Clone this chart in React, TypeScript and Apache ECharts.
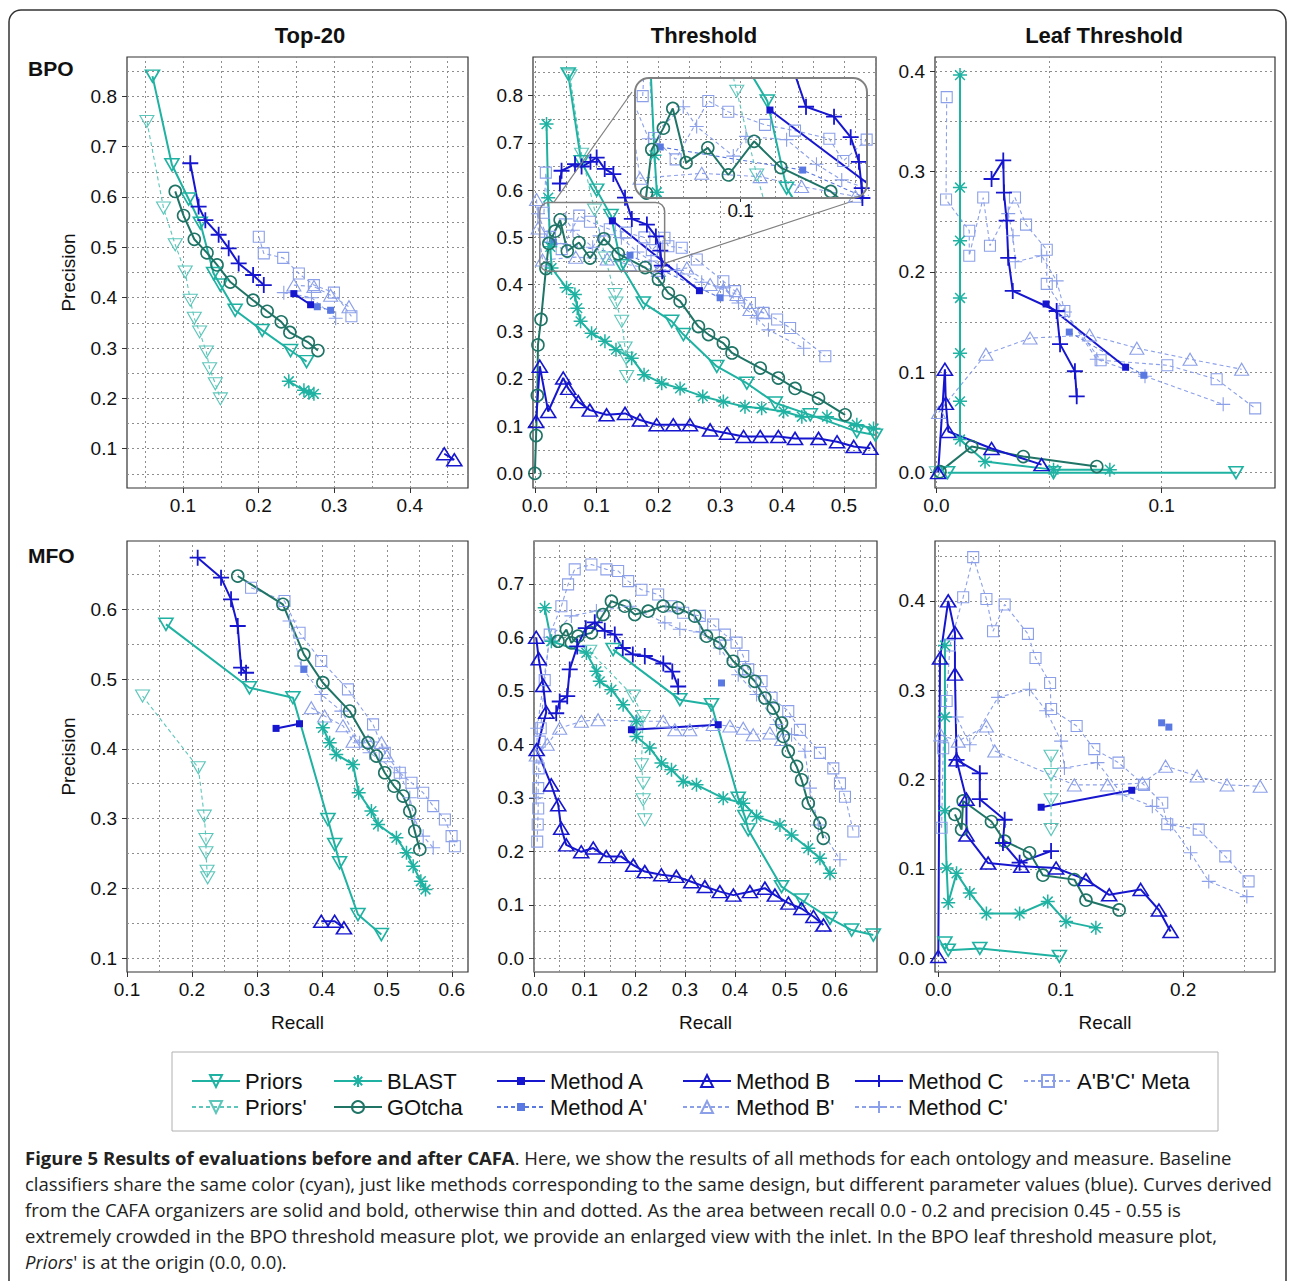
import React, { useEffect, useRef } from "react";
import * as echarts from "echarts";

type Pt = [number, number];

// ---------------- BPO · Top-20 ----------------
const P1_PRIORS: Pt[] = [[0.0597,0.840],[0.0854,0.664],[0.1075,0.596],[0.123,0.548],[0.1406,0.448],[0.1495,0.425],[0.169,0.375],[0.2048,0.335],[0.2423,0.295],[0.2635,0.273]];
const P1_PRIORS_P: Pt[] = [[0.0523,0.750],[0.0743,0.578],[0.0898,0.505],[0.103,0.451],[0.1097,0.395],[0.115,0.359],[0.122,0.332],[0.131,0.292],[0.1353,0.259],[0.1428,0.229],[0.1495,0.199]];
const P1_BLAST: Pt[] = [[0.240,0.234],[0.260,0.216],[0.2666,0.211],[0.2732,0.209]];
const P1_GOTCHA: Pt[] = [[0.0898,0.611],[0.1008,0.563],[0.115,0.516],[0.1318,0.489],[0.1451,0.465],[0.1627,0.431],[0.1928,0.395],[0.2114,0.373],[0.23,0.352],[0.2414,0.331],[0.2658,0.311],[0.2785,0.295]];
const P1_A: Pt[] = [[0.2467,0.408],[0.2688,0.386]];
const P1_AP: Pt[] = [[0.2777,0.382],[0.2953,0.375]];
const P1_B: Pt[] = [[0.4456,0.090],[0.4589,0.078]];
const P1_BP: Pt[] = [[0.2467,0.425],[0.2732,0.422],[0.2953,0.405],[0.3196,0.382]];
const P1_C: Pt[] = [[0.1097,0.667],[0.1207,0.581],[0.1296,0.554],[0.1472,0.525],[0.1605,0.498],[0.1737,0.468],[0.1928,0.445],[0.2069,0.425]];
const P1_CP: Pt[] = [[0.2334,0.410],[0.27,0.400],[0.302,0.359]];
const P1_META: Pt[] = [[0.2003,0.521],[0.2069,0.488],[0.2326,0.479],[0.2533,0.448],[0.2732,0.425],[0.2997,0.410],[0.3228,0.363]];

// ---------------- BPO · Threshold ----------------
const P2_PRIORS: Pt[] = [[0.054,0.846],[0.075,0.66],[0.1,0.6],[0.1232,0.546],[0.14,0.44],[0.1756,0.361],[0.2215,0.322],[0.2404,0.294],[0.2944,0.2265],[0.343,0.191],[0.389,0.149],[0.4457,0.124],[0.521,0.0885],[0.551,0.081]];
const P2_PRIORS_P: Pt[] = [[0.0567,0.842],[0.0756,0.676],[0.0966,0.558],[0.114,0.456],[0.1297,0.379],[0.1313,0.361],[0.1405,0.322],[0.146,0.2655],[0.1475,0.244],[0.1486,0.205]];
const P2_BLAST: Pt[] = [[0.0189,0.74],[0.0216,0.584],[0.025,0.48],[0.027,0.435],[0.0513,0.393],[0.0648,0.379],[0.0686,0.35],[0.074,0.322],[0.0918,0.297],[0.1134,0.28],[0.1313,0.262],[0.1567,0.244],[0.1767,0.209],[0.2053,0.191],[0.235,0.18],[0.2717,0.163],[0.305,0.152],[0.34,0.141],[0.367,0.138],[0.4025,0.131],[0.432,0.12],[0.4727,0.12],[0.521,0.103],[0.548,0.095]];
const P2_GOTCHA: Pt[] = [[0.0,0.0],[0.002,0.08],[0.004,0.165],[0.005,0.272],[0.01,0.326],[0.018,0.434],[0.0226,0.487],[0.0327,0.513],[0.0409,0.537],[0.0525,0.471],[0.0714,0.489],[0.0893,0.456],[0.1117,0.497],[0.135,0.465],[0.1784,0.436],[0.2,0.411],[0.216,0.382],[0.235,0.365],[0.2647,0.311],[0.281,0.294],[0.305,0.276],[0.319,0.255],[0.3647,0.223],[0.394,0.202],[0.421,0.18],[0.459,0.159],[0.502,0.124]];
const P2_A: Pt[] = [[0.1255,0.535],[0.2663,0.387]];
const P2_AP: Pt[] = [[0.03,0.49],[0.154,0.462],[0.2998,0.372]];
const P2_B: Pt[] = [[0.002,0.11],[0.008,0.227],[0.0216,0.131],[0.0459,0.202],[0.054,0.18],[0.0702,0.152],[0.089,0.134],[0.116,0.124],[0.1459,0.127],[0.17,0.113],[0.197,0.103],[0.224,0.103],[0.251,0.103],[0.2836,0.092],[0.311,0.085],[0.3377,0.078],[0.3647,0.078],[0.394,0.078],[0.421,0.074],[0.459,0.074],[0.489,0.067],[0.516,0.057],[0.543,0.053]];
const P2_BP: Pt[] = [[0.0027,0.58],[0.0054,0.52],[0.0124,0.452],[0.0661,0.458],[0.117,0.454],[0.1531,0.442],[0.2,0.43],[0.246,0.435],[0.2836,0.40],[0.305,0.389],[0.327,0.379],[0.348,0.347],[0.37,0.34]];
const P2_C: Pt[] = [[0.0405,0.614],[0.0432,0.641],[0.065,0.655],[0.0756,0.65],[0.09,0.66],[0.1,0.669],[0.113,0.645],[0.127,0.634],[0.1459,0.584],[0.1569,0.539],[0.1813,0.527],[0.1958,0.502],[0.203,0.472],[0.2054,0.44],[0.206,0.428]];
const P2_CP: Pt[] = [[0.005,0.55],[0.02,0.5],[0.05,0.539],[0.0617,0.515],[0.0936,0.479],[0.1046,0.503],[0.14,0.499],[0.166,0.469],[0.188,0.45],[0.23,0.43],[0.27,0.405],[0.305,0.393],[0.3295,0.361],[0.359,0.329],[0.378,0.304],[0.435,0.265]];
const P2_META: Pt[] = [[0.0147,0.552],[0.0178,0.637],[0.0245,0.501],[0.0434,0.475],[0.0718,0.546],[0.0892,0.533],[0.1212,0.517],[0.1473,0.51],[0.1772,0.5],[0.1893,0.473],[0.2097,0.499],[0.216,0.481],[0.2377,0.478],[0.262,0.453],[0.305,0.407],[0.324,0.386],[0.348,0.361],[0.37,0.34],[0.392,0.326],[0.413,0.308],[0.47,0.248]];

// ---------------- BPO · Leaf Threshold ----------------
const P3_PRIORS: Pt[] = [[0.005,0.0],[0.052,0.0],[0.133,0.0]];
const P3_PRIORS_P: Pt[] = [[0.0,0.0]];
const P3_BLAST: Pt[] = [[0.0105,0.396],[0.0105,0.284],[0.0105,0.231],[0.0105,0.174],[0.0105,0.119],[0.0105,0.071],[0.0105,0.033],[0.0216,0.011],[0.052,0.003],[0.077,0.003]];
const P3_GOTCHA: Pt[] = [[0.0016,0.001],[0.0157,0.026],[0.0386,0.016],[0.0712,0.006]];
const P3_A: Pt[] = [[0.0487,0.168],[0.084,0.105]];
const P3_AP: Pt[] = [[0.059,0.14],[0.0921,0.097]];
const P3_B: Pt[] = [[0.0008,0.0],[0.0038,0.103],[0.0042,0.069],[0.0053,0.041],[0.0245,0.024],[0.0467,0.008]];
const P3_BP: Pt[] = [[0.001,0.06],[0.022,0.118],[0.0416,0.134],[0.068,0.137],[0.089,0.124],[0.1126,0.113],[0.1355,0.103]];
const P3_C: Pt[] = [[0.0245,0.2925],[0.0297,0.311],[0.03,0.279],[0.0312,0.251],[0.0319,0.214],[0.0339,0.181],[0.0534,0.161],[0.0549,0.128],[0.0615,0.101],[0.0623,0.076]];
const P3_CP: Pt[] = [[0.0319,0.258],[0.034,0.236],[0.035,0.21],[0.0467,0.216],[0.0534,0.191],[0.0571,0.16],[0.0712,0.113],[0.0926,0.096],[0.1273,0.068]];
const P3_META: Pt[] = [[0.0046,0.374],[0.0043,0.272],[0.0146,0.241],[0.0146,0.216],[0.0208,0.274],[0.0238,0.226],[0.0349,0.274],[0.0398,0.247],[0.049,0.222],[0.049,0.188],[0.0568,0.161],[0.0729,0.112],[0.1025,0.107],[0.1244,0.093],[0.1415,0.064]];

// ---------------- MFO · Top-20 ----------------
const P4_PRIORS: Pt[] = [[0.16,0.5785],[0.2885,0.4876],[0.3555,0.4733],[0.4094,0.2987],[0.4198,0.2628],[0.4273,0.2365],[0.4556,0.1624],[0.4916,0.1337]];
const P4_PRIORS_P: Pt[] = [[0.1239,0.4757],[0.2098,0.3728],[0.219,0.3035],[0.2216,0.27],[0.2216,0.2509],[0.2232,0.2246],[0.2242,0.215]];
const P4_BLAST: Pt[] = [[0.4016,0.4302],[0.412,0.4087],[0.4222,0.392],[0.448,0.3776],[0.4567,0.337],[0.4763,0.3107],[0.4865,0.2915],[0.5148,0.2724],[0.5303,0.2509],[0.5406,0.2318],[0.5524,0.2102],[0.5596,0.1983]];
const P4_GOTCHA: Pt[] = [[0.2705,0.6478],[0.34,0.6072],[0.3723,0.5354],[0.4016,0.4948],[0.4428,0.4541],[0.4711,0.4087],[0.4839,0.3896],[0.4968,0.3657],[0.5112,0.3465],[0.5251,0.3322],[0.5354,0.3107],[0.543,0.282],[0.5508,0.2557]];
const P4_A: Pt[] = [[0.3295,0.4293],[0.3656,0.436]];
const P4_AP: Pt[] = [[0.3723,0.5139]];
const P4_B: Pt[] = [[0.3991,0.1528],[0.4197,0.1528],[0.434,0.1433]];
const P4_BP: Pt[] = [[0.3837,0.459],[0.4042,0.447],[0.4325,0.433],[0.448,0.411],[0.4711,0.411],[0.4917,0.409],[0.5,0.39]];
const P4_C: Pt[] = [[0.2088,0.6741],[0.2448,0.6454],[0.2602,0.6143],[0.2705,0.5761],[0.2757,0.5163],[0.2833,0.5091]];
const P4_CP: Pt[] = [[0.3502,0.5833],[0.3682,0.5187],[0.3991,0.478],[0.43,0.4541],[0.4582,0.4087],[0.4735,0.3943],[0.5199,0.3657],[0.5354,0.3298],[0.543,0.2987],[0.556,0.2748],[0.5714,0.2581]];
const P4_META: Pt[] = [[0.291,0.631],[0.3425,0.612],[0.3657,0.5665],[0.399,0.526],[0.4402,0.4852],[0.4788,0.435],[0.4968,0.3943],[0.52,0.3657],[0.538,0.3513],[0.556,0.337],[0.5714,0.3178],[0.5894,0.2987],[0.5997,0.2748],[0.6048,0.2604]];

// ---------------- MFO · Threshold ----------------
const P5_PRIORS: Pt[] = [[0.1567,0.577],[0.29,0.4834],[0.3533,0.474],[0.4067,0.2993],[0.42,0.2649],[0.4267,0.24],[0.4933,0.1338],[0.5333,0.1089],[0.59,0.0745],[0.6333,0.0527],[0.6767,0.0433]];
const P5_PRIORS_P: Pt[] = [[0.11,0.574],[0.1967,0.49],[0.2167,0.452],[0.2133,0.3617],[0.2167,0.3273],[0.2167,0.2961],[0.22,0.2587]];
const P5_BLAST: Pt[] = [[0.02,0.655],[0.0333,0.5926],[0.1033,0.5708],[0.1233,0.5365],[0.13,0.5177],[0.1533,0.5021],[0.1767,0.474],[0.2033,0.4428],[0.2033,0.4147],[0.23,0.3929],[0.2533,0.3648],[0.2733,0.3523],[0.2967,0.3305],[0.3233,0.3242],[0.3767,0.2993],[0.4167,0.2899],[0.4433,0.2649],[0.49,0.2493],[0.5133,0.2306],[0.5467,0.2056],[0.57,0.1869],[0.59,0.1588]];
const P5_GOTCHA: Pt[] = [[0.0467,0.5926],[0.0633,0.6145],[0.0733,0.5895],[0.0867,0.602],[0.1133,0.6083],[0.1367,0.6426],[0.1533,0.6675],[0.18,0.6582],[0.2,0.6426],[0.2267,0.6488],[0.2567,0.6582],[0.2867,0.655],[0.32,0.6395],[0.3433,0.602],[0.37,0.5895],[0.3967,0.5552],[0.42,0.5365],[0.44,0.5177],[0.46,0.4865],[0.4767,0.4678],[0.4933,0.4397],[0.4967,0.4147],[0.5067,0.3866],[0.5233,0.3586],[0.5333,0.3336],[0.5467,0.2899],[0.57,0.2524],[0.5767,0.2243]];
const P5_A: Pt[] = [[0.1933,0.4272],[0.3667,0.4366]];
const P5_AP: Pt[] = [[0.3733,0.5146]];
const P5_B: Pt[] = [[0.003,0.6],[0.008,0.56],[0.017,0.51],[0.023,0.46],[0.004,0.39],[0.033,0.324],[0.047,0.287],[0.053,0.243],[0.063,0.212],[0.093,0.199],[0.117,0.206],[0.143,0.19],[0.173,0.19],[0.197,0.174],[0.22,0.162],[0.253,0.156],[0.283,0.153],[0.313,0.143],[0.34,0.134],[0.37,0.1245],[0.397,0.118],[0.43,0.1245],[0.46,0.131],[0.48,0.118],[0.507,0.103],[0.533,0.093],[0.557,0.078],[0.577,0.062]];
const P5_BP: Pt[] = [[0.003,0.38],[0.025,0.4],[0.05,0.43],[0.0933,0.443],[0.1267,0.446],[0.2033,0.443],[0.2567,0.443],[0.28,0.427],[0.31,0.427],[0.3567,0.437],[0.39,0.434],[0.4167,0.43],[0.4367,0.418],[0.47,0.421],[0.4933,0.409]];
const P5_C: Pt[] = [[0.043,0.458],[0.05,0.48],[0.065,0.49],[0.07,0.54],[0.085,0.583],[0.102,0.617],[0.12,0.628],[0.14,0.612],[0.16,0.605],[0.176,0.58],[0.196,0.568],[0.22,0.565],[0.257,0.551],[0.275,0.536],[0.2867,0.508]];
const P5_CP: Pt[] = [[0.003,0.3],[0.005,0.43],[0.03,0.6],[0.0733,0.64],[0.1233,0.649],[0.19,0.658],[0.26,0.627],[0.29,0.615],[0.33,0.61],[0.37,0.58],[0.4067,0.53],[0.4433,0.493],[0.4833,0.437],[0.5133,0.418],[0.54,0.387],[0.55,0.318],[0.5667,0.249],[0.61,0.184]];
const P5_META: Pt[] = [[0.005,0.218],[0.006,0.25],[0.007,0.28],[0.007,0.318],[0.008,0.355],[0.01,0.405],[0.012,0.43],[0.02,0.52],[0.03,0.605],[0.0533,0.658],[0.0667,0.699],[0.08,0.727],[0.1133,0.736],[0.1433,0.727],[0.1667,0.724],[0.1867,0.705],[0.2133,0.689],[0.2467,0.68],[0.2733,0.658],[0.2967,0.646],[0.33,0.64],[0.3567,0.624],[0.38,0.605],[0.4033,0.59],[0.4167,0.565],[0.4267,0.54],[0.4533,0.518],[0.4733,0.487],[0.5067,0.462],[0.53,0.427],[0.57,0.384],[0.5967,0.355],[0.61,0.327],[0.62,0.302],[0.6367,0.237]];

// ---------------- MFO · Leaf Threshold ----------------
const P6_PRIORS: Pt[] = [[0.0054,0.017],[0.0081,0.009],[0.0339,0.011],[0.0989,0.002]];
const P6_PRIORS_P: Pt[] = [[0.0921,0.226],[0.0921,0.2056],[0.0921,0.1775],[0.0921,0.144]];
const P6_BLAST: Pt[] = [[0.0054,0.35],[0.0054,0.27],[0.0054,0.165],[0.0068,0.101],[0.0081,0.062],[0.0149,0.095],[0.0257,0.073],[0.0393,0.05],[0.0664,0.05],[0.0894,0.0635],[0.1043,0.041],[0.1287,0.034]];
const P6_GOTCHA: Pt[] = [[0.0136,0.161],[0.019,0.144],[0.0203,0.176],[0.0434,0.153],[0.0542,0.131],[0.0745,0.118],[0.0854,0.093],[0.1111,0.088],[0.1206,0.065],[0.1477,0.054]];
const P6_A: Pt[] = [[0.084,0.169],[0.158,0.188]];
const P6_AP: Pt[] = [[0.1824,0.2635],[0.1883,0.2587]];
const P6_B: Pt[] = [[0.0,0.002],[0.0014,0.336],[0.0081,0.4],[0.0136,0.3645],[0.0136,0.318],[0.0149,0.222],[0.023,0.178],[0.023,0.138],[0.0407,0.1065],[0.0678,0.103],[0.0962,0.101],[0.1206,0.088],[0.1396,0.071],[0.1653,0.077],[0.1802,0.054],[0.1897,0.03]];
const P6_BP: Pt[] = [[0.002,0.25],[0.0163,0.243],[0.0393,0.26],[0.0461,0.232],[0.1111,0.194],[0.1382,0.194],[0.1667,0.196],[0.1856,0.215],[0.2114,0.204],[0.2358,0.194],[0.2629,0.1925]];
const P6_C: Pt[] = [[0.0149,0.222],[0.0339,0.207],[0.0339,0.178],[0.0542,0.155],[0.0528,0.129],[0.0664,0.107],[0.0921,0.12]];
const P6_CP: Pt[] = [[0.005,0.27],[0.015,0.27],[0.0257,0.239],[0.0488,0.292],[0.0745,0.301],[0.0881,0.277],[0.1003,0.243],[0.103,0.213],[0.13,0.219],[0.1504,0.183],[0.1748,0.17],[0.1897,0.15],[0.206,0.118],[0.2209,0.086],[0.252,0.069]];
const P6_META: Pt[] = [[0.0027,0.146],[0.004,0.235],[0.0068,0.288],[0.0095,0.35],[0.0203,0.404],[0.0285,0.449],[0.0393,0.402],[0.0447,0.366],[0.0542,0.396],[0.0732,0.363],[0.0794,0.336],[0.0913,0.308],[0.0921,0.279],[0.113,0.26],[0.1274,0.234],[0.1472,0.219],[0.168,0.194],[0.1829,0.174],[0.187,0.15],[0.2127,0.144],[0.2344,0.114],[0.2534,0.086]];

// ---------------- axes: ranges, ticks, grid lines ----------------
const X_RANGE = [[0.026, 0.477], [-0.003, 0.552], [-0.0006, 0.1503], [0.1, 0.625], [-0.0014, 0.684], [-0.0027, 0.275]];
const Y_RANGE = [[0.022, 0.878], [-0.031, 0.882], [-0.0153, 0.414], [0.08, 0.698], [-0.0257, 0.78], [-0.0154, 0.467]];
const X_TICKS = [[0.1, 0.2, 0.3, 0.4], [0, 0.1, 0.2, 0.3, 0.4, 0.5], [0, 0.1], [0.1, 0.2, 0.3, 0.4, 0.5, 0.6], [0, 0.1, 0.2, 0.3, 0.4, 0.5, 0.6], [0, 0.1, 0.2]];
const Y_TICKS = [[0.1, 0.2, 0.3, 0.4, 0.5, 0.6, 0.7, 0.8], [0, 0.1, 0.2, 0.3, 0.4, 0.5, 0.6, 0.7, 0.8], [0, 0.1, 0.2, 0.3, 0.4], [0.1, 0.2, 0.3, 0.4, 0.5, 0.6], [0, 0.1, 0.2, 0.3, 0.4, 0.5, 0.6, 0.7], [0, 0.1, 0.2, 0.3, 0.4]];
const X_GRIDLINES = [
  [0.05, 0.1, 0.15, 0.2, 0.25, 0.3, 0.35, 0.4, 0.45],
  [0, 0.05, 0.1, 0.15, 0.2, 0.25, 0.3, 0.35, 0.4, 0.45, 0.5, 0.55],
  [0, 0.05, 0.1],
  [0.15, 0.2, 0.25, 0.3, 0.35, 0.4, 0.45, 0.5, 0.55, 0.6],
  [0, 0.05, 0.1, 0.15, 0.2, 0.25, 0.3, 0.35, 0.4, 0.45, 0.5, 0.55, 0.6, 0.65],
  [0, 0.05, 0.1, 0.15, 0.2, 0.25],
];
const Y_GRIDLINES = [
  [0.05, 0.1, 0.15, 0.2, 0.25, 0.3, 0.35, 0.4, 0.45, 0.5, 0.55, 0.6, 0.65, 0.7, 0.75, 0.8, 0.85],
  [0, 0.05, 0.1, 0.15, 0.2, 0.25, 0.3, 0.35, 0.4, 0.45, 0.5, 0.55, 0.6, 0.65, 0.7, 0.75, 0.8, 0.85],
  [0, 0.05, 0.1, 0.15, 0.2, 0.25, 0.3, 0.35, 0.4],
  [0.1, 0.15, 0.2, 0.25, 0.3, 0.35, 0.4, 0.45, 0.5, 0.55, 0.6, 0.65],
  [0, 0.05, 0.1, 0.15, 0.2, 0.25, 0.3, 0.35, 0.4, 0.45, 0.5, 0.55, 0.6, 0.65, 0.7, 0.75],
  [0, 0.05, 0.1, 0.15, 0.2, 0.25, 0.3, 0.35, 0.4, 0.45],
];
// zoomed window of the BPO threshold plot, shown in the inset
const ZOOM_X = [0.008, 0.21];
const ZOOM_Y = [0.428, 0.574];
const INSET_TICKS = [0.1];
const INSET_X_GRIDLINES = [0.025, 0.05, 0.075, 0.1, 0.125, 0.15, 0.175, 0.2];
const INSET_Y_GRIDLINES = [0.45, 0.475, 0.5, 0.525, 0.55];

const PANEL_DATA: Record<string, Pt[]>[] = [
  { priors: P1_PRIORS, priorsP: P1_PRIORS_P, blast: P1_BLAST, gotcha: P1_GOTCHA, a: P1_A, aP: P1_AP, b: P1_B, bP: P1_BP, c: P1_C, cP: P1_CP, meta: P1_META },
  { priors: P2_PRIORS, priorsP: P2_PRIORS_P, blast: P2_BLAST, gotcha: P2_GOTCHA, a: P2_A, aP: P2_AP, b: P2_B, bP: P2_BP, c: P2_C, cP: P2_CP, meta: P2_META },
  { priors: P3_PRIORS, priorsP: P3_PRIORS_P, blast: P3_BLAST, gotcha: P3_GOTCHA, a: P3_A, aP: P3_AP, b: P3_B, bP: P3_BP, c: P3_C, cP: P3_CP, meta: P3_META },
  { priors: P4_PRIORS, priorsP: P4_PRIORS_P, blast: P4_BLAST, gotcha: P4_GOTCHA, a: P4_A, aP: P4_AP, b: P4_B, bP: P4_BP, c: P4_C, cP: P4_CP, meta: P4_META },
  { priors: P5_PRIORS, priorsP: P5_PRIORS_P, blast: P5_BLAST, gotcha: P5_GOTCHA, a: P5_A, aP: P5_AP, b: P5_B, bP: P5_BP, c: P5_C, cP: P5_CP, meta: P5_META },
  { priors: P6_PRIORS, priorsP: P6_PRIORS_P, blast: P6_BLAST, gotcha: P6_GOTCHA, a: P6_A, aP: P6_AP, b: P6_B, bP: P6_BP, c: P6_C, cP: P6_CP, meta: P6_META },
];

const COLUMN_TITLES = ["Top-20", "Threshold", "Leaf Threshold"];
const ROW_TITLES = ["BPO", "MFO"];
const LEGEND_COLUMNS = [["Priors", "Priors'"], ["BLAST", "GOtcha"], ["Method A", "Method A'"], ["Method B", "Method B'"], ["Method C", "Method C'"], ["A'B'C' Meta"]];
const CAPTION_LINES = [
  "{b|Figure 5 Results of evaluations before and after CAFA}. Here, we show the results of all methods for each ontology and measure. Baseline",
  "classifiers share the same color (cyan), just like methods corresponding to the same design, but different parameter values (blue). Curves derived",
  "from the CAFA organizers are solid and bold, otherwise thin and dotted. As the area between recall 0.0 - 0.2 and precision 0.45 - 0.55 is",
  "extremely crowded in the BPO threshold measure plot, we provide an enlarged view with the inlet. In the BPO leaf threshold measure plot,",
  "{i|Priors}' is at the origin (0.0, 0.0).",
];

// ---------------- layout & styles ----------------
const FONT = '"Liberation Sans", Arial, Helvetica, sans-serif';
const CAP_FONT = '"Open Sans", "Noto Sans", sans-serif';
const CAP_SIZE = 18.5;
const GRID_RECTS = [
  { left: 127, top: 57, width: 341, height: 431 },
  { left: 533, top: 57, width: 343, height: 431 },
  { left: 935, top: 57, width: 340, height: 431 },
  { left: 127, top: 541, width: 341, height: 431 },
  { left: 534, top: 541, width: 343, height: 431 },
  { left: 935, top: 541, width: 340, height: 431 },
];
const INSET_RECT = { left: 635, top: 78, width: 232, height: 120 };
const TITLE_X = [310, 704, 1104];
const ROW_Y = [68, 555];
const LEGEND_TEXT_X = [244, 386, 549, 735, 907, 1076];

const CYAN = "#1fb2a2";
const CYAN_L = "#5cc6ba";
const TEAL = "#1f7466";
const BLUE = "#1616cf";
const BLUE_A2 = "#5a78e2";
const BLUE_L = "#8ca0e9";
const CLEAR = "rgba(0,0,0,0)";

const SYM_DOWN = "path://M0,0 L20,0 L10,17.3 Z";
const SYM_UP = "path://M10,0 L20,17.3 L0,17.3 Z";
const SYM_AST = "path://M10,0 L10,20 M0,10 L20,10 M3,3 L17,17 M3,17 L17,3";
const SYM_PLUS = "path://M10,0 L10,20 M0,10 L20,10";

const KEYS = ["meta", "cP", "bP", "aP", "priorsP", "priors", "blast", "gotcha", "a", "b", "c"];
const STYLE: Record<string, any> = {
  priors: { name: "Priors", color: CYAN, width: 2, dash: false, symbol: SYM_DOWN, size: [14, 12], bw: 1.6 },
  priorsP: { name: "Priors'", color: CYAN_L, width: 1.1, dash: true, symbol: SYM_DOWN, size: [14, 12], bw: 1.1 },
  blast: { name: "BLAST", color: CYAN, width: 2, dash: false, symbol: SYM_AST, size: 14, bw: 1.5 },
  gotcha: { name: "GOtcha", color: TEAL, width: 2, dash: false, symbol: "circle", size: 12, bw: 1.6 },
  a: { name: "Method A", color: BLUE, width: 2, dash: false, symbol: "rect", size: 7, bw: 0, fill: BLUE },
  aP: { name: "Method A'", color: BLUE_A2, width: 1.1, dash: true, symbol: "rect", size: 7, bw: 0, fill: BLUE_A2 },
  b: { name: "Method B", color: BLUE, width: 2, dash: false, symbol: SYM_UP, size: [15, 12], bw: 1.6 },
  bP: { name: "Method B'", color: BLUE_L, width: 1.1, dash: true, symbol: SYM_UP, size: [14, 12], bw: 1.1 },
  c: { name: "Method C", color: BLUE, width: 2, dash: false, symbol: SYM_PLUS, size: 16, bw: 1.8 },
  cP: { name: "Method C'", color: BLUE_L, width: 1.1, dash: true, symbol: SYM_PLUS, size: 14, bw: 1.1 },
  meta: { name: "A'B'C' Meta", color: BLUE_L, width: 1.1, dash: true, symbol: "rect", size: 11, bw: 1.1 },
};

function makeSeries(key: string, data: Pt[], idx: number, z: number) {
  const s = STYLE[key];
  return {
    type: "line",
    name: s.name,
    xAxisIndex: idx,
    yAxisIndex: idx,
    data,
    z,
    symbol: s.symbol,
    symbolSize: s.size,
    showSymbol: true,
    showAllSymbol: true,
    clip: true,
    silent: true,
    animation: false,
    emphasis: { disabled: true },
    lineStyle: { color: s.color, width: s.width, type: s.dash ? [4, 3] : "solid" },
    itemStyle: { color: s.fill || CLEAR, borderColor: s.color, borderWidth: s.bw },
  };
}

function gridLineSeries(idx: number, xs: number[], ys: number[], z: number) {
  return {
    type: "line",
    xAxisIndex: idx,
    yAxisIndex: idx,
    data: [],
    silent: true,
    animation: false,
    markLine: {
      silent: true,
      z,
      animation: false,
      symbol: ["none", "none"],
      label: { show: false },
      emphasis: { disabled: true },
      lineStyle: { color: "#8e8e8e", type: [2, 3], width: 1 },
      data: [...xs.map((v) => ({ xAxis: v })), ...ys.map((v) => ({ yAxis: v }))],
    },
  };
}

const fmt = (v: number) => v.toFixed(1);
const labelStyle = { fontSize: 19, color: "#111", fontFamily: FONT };

function buildOption() {
  const grid: any[] = GRID_RECTS.map((r) => ({ ...r, show: true, borderColor: "#333", borderWidth: 1.2, containLabel: false, outerBoundsMode: "none" }));
  grid.push({ ...INSET_RECT, show: false, containLabel: false, outerBoundsMode: "none" });

  const xAxis: any[] = GRID_RECTS.map((_, i) => ({
    type: "value", gridIndex: i, min: X_RANGE[i][0], max: X_RANGE[i][1],
    axisLine: { show: false, onZero: false }, splitLine: { show: false },
    axisTick: { show: true, length: 5, customValues: X_TICKS[i], lineStyle: { color: "#333" } },
    axisLabel: { customValues: X_TICKS[i], formatter: fmt, margin: 8, ...labelStyle },
    name: i >= 3 ? "Recall" : "", nameLocation: "middle", nameGap: 41, nameTextStyle: labelStyle,
  }));
  xAxis.push({
    type: "value", gridIndex: 6, min: ZOOM_X[0], max: ZOOM_X[1], z: 25,
    axisLine: { show: false, onZero: false }, splitLine: { show: false },
    axisTick: { show: true, length: 4, customValues: INSET_TICKS, lineStyle: { color: "#333" } },
    axisLabel: { customValues: INSET_TICKS, formatter: fmt, margin: 3, ...labelStyle },
  });
  const yAxis: any[] = GRID_RECTS.map((_, i) => ({
    type: "value", gridIndex: i, min: Y_RANGE[i][0], max: Y_RANGE[i][1],
    axisLine: { show: false, onZero: false }, splitLine: { show: false },
    axisTick: { show: true, length: 5, customValues: Y_TICKS[i], lineStyle: { color: "#333" } },
    axisLabel: { customValues: Y_TICKS[i], formatter: fmt, margin: 10, ...labelStyle },
    name: i % 3 === 0 ? "Precision" : "", nameLocation: "middle", nameGap: 49, nameTextStyle: labelStyle,
  }));
  yAxis.push({ type: "value", gridIndex: 6, min: ZOOM_Y[0], max: ZOOM_Y[1], show: false, axisLine: { onZero: false }, splitLine: { show: false } });

  const series: any[] = [];
  PANEL_DATA.forEach((pd, i) => {
    series.push(gridLineSeries(i, X_GRIDLINES[i], Y_GRIDLINES[i], 1));
    KEYS.forEach((k) => { if (pd[k]) series.push(makeSeries(k, pd[k], i, 2)); });
  });
  series.push(gridLineSeries(6, INSET_X_GRIDLINES, INSET_Y_GRIDLINES, 15));
  KEYS.forEach((k) => series.push(makeSeries(k, PANEL_DATA[1][k], 6, 20)));

  const legend = LEGEND_COLUMNS.map((names, i) => ({
    data: names, orient: "vertical", left: LEGEND_TEXT_X[i] - 53, top: 1070,
    itemWidth: 48, itemHeight: i === 2 ? 10 : 15, itemGap: 4, padding: 0, selectedMode: false,
    textStyle: { fontSize: 22, color: "#111", fontFamily: FONT },
  }));

  return {
    animation: false,
    backgroundColor: "#fff",
    textStyle: { fontFamily: FONT },
    grid, xAxis, yAxis, series, legend,
  };
}

export default function App() {
  const ref = useRef<HTMLDivElement>(null);
  useEffect(() => {
    if (!ref.current) return;
    const chart = echarts.init(ref.current, null, { renderer: "svg" });
    chart.setOption(buildOption() as any);

    const tl = chart.convertToPixel({ gridIndex: 1 } as any, [ZOOM_X[0], ZOOM_Y[1]]) as number[];
    const br = chart.convertToPixel({ gridIndex: 1 } as any, [ZOOM_X[1], ZOOM_Y[0]]) as number[];
    const ix0 = INSET_RECT.left, iy0 = INSET_RECT.top;
    const ix1 = INSET_RECT.left + INSET_RECT.width, iy1 = INSET_RECT.top + INSET_RECT.height;

    const capRich = {
      b: { fontWeight: "bold", fontSize: CAP_SIZE, fontFamily: CAP_FONT, fill: "#222" },
      i: { fontStyle: "italic", fontSize: CAP_SIZE, fontFamily: CAP_FONT, fill: "#222" },
    };

    const graphic: any[] = [
      { type: "rect", z: 40, silent: true, shape: { x: 9, y: 10, width: 1277, height: 1300, r: 12 }, style: { fill: "none", stroke: "#333", lineWidth: 1.5 } },
      { type: "rect", z: 40, silent: true, shape: { x: 172, y: 1052, width: 1046, height: 79 }, style: { fill: "none", stroke: "#b0b0b0", lineWidth: 1 } },
      ...COLUMN_TITLES.map((t, i) => ({ type: "text", z: 40, silent: true, x: TITLE_X[i], y: 35, style: { text: t, align: "center", verticalAlign: "middle", fontSize: 22, fontWeight: "bold", fontFamily: FONT, fill: "#111" } })),
      ...ROW_TITLES.map((t, i) => ({ type: "text", z: 40, silent: true, x: 28, y: ROW_Y[i], style: { text: t, align: "left", verticalAlign: "middle", fontSize: 21, fontWeight: "bold", fontFamily: FONT, fill: "#111" } })),
      ...CAPTION_LINES.map((t, i) => ({
        type: "text", z: 40, silent: true, x: 25, y: 1157 + i * 26,
        style: { text: t, align: "left", verticalAlign: "middle", fontSize: CAP_SIZE, fontFamily: CAP_FONT, fill: "#222", rich: capRich },
      })),
      // zoom window in the BPO threshold plot
      { type: "rect", z: 5, silent: true, shape: { x: tl[0], y: tl[1], width: br[0] - tl[0], height: br[1] - tl[1], r: 9 }, style: { fill: "none", stroke: "#808080", lineWidth: 1.5 } },
      { type: "line", z: 5, silent: true, shape: { x1: tl[0] + 14, y1: tl[1], x2: ix0 - 3, y2: iy0 + 14 }, style: { stroke: "#808080", lineWidth: 1.2 } },
      { type: "line", z: 5, silent: true, shape: { x1: br[0], y1: br[1] - 8, x2: ix1 - 14, y2: iy1 + 3 }, style: { stroke: "#808080", lineWidth: 1.2 } },
      // inset frame
      { type: "rect", z: 10, silent: true, shape: { x: ix0, y: iy0, width: INSET_RECT.width, height: INSET_RECT.height, r: 14 }, style: { fill: "#fff", stroke: "none" } },
      { type: "rect", z: 30, silent: true, shape: { x: ix0, y: iy0, width: INSET_RECT.width, height: INSET_RECT.height, r: 14 }, style: { fill: "none", stroke: "#808080", lineWidth: 2 } },
    ];
    chart.setOption({ graphic } as any);
    return () => chart.dispose();
  }, []);
  return <div ref={ref} style={{ position: "absolute", left: 0, top: 0, width: 1290, height: 1281, background: "#fff" }} />;
}
